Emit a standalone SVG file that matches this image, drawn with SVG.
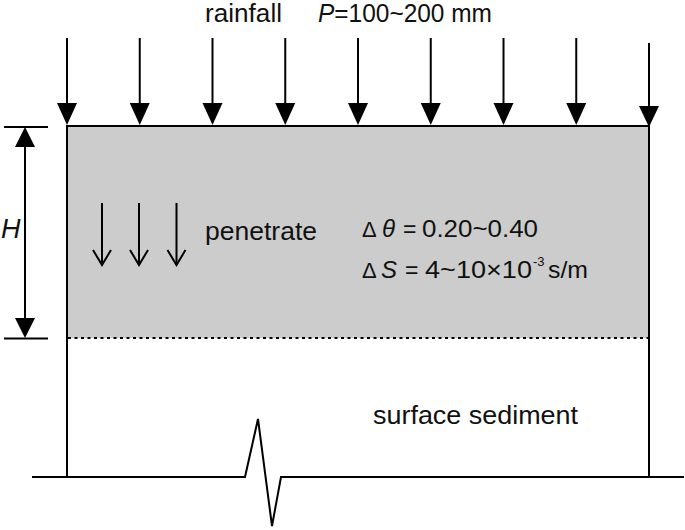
<svg xmlns="http://www.w3.org/2000/svg" width="685" height="530" viewBox="0 0 685 530">
<style>
.ln{stroke:#000;stroke-width:2;fill:none}
.hd{fill:#000;stroke:none}
.t{font-family:"Liberation Sans",Arial,sans-serif;fill:#111}
.i{font-style:italic}
</style>
<rect x="0" y="0" width="685" height="530" fill="#fff"/>
<g id="soil-layer">
<rect x="67" y="126" width="582" height="212" fill="#cccccc"/>
<line class="ln" x1="66" y1="126" x2="650" y2="126"/>
<line class="ln" x1="67" y1="126" x2="67" y2="477"/>
<line class="ln" x1="649" y1="126" x2="649" y2="477"/>
<line x1="68" y1="338" x2="648" y2="338" stroke="#000" stroke-width="2" stroke-dasharray="3,3.5"/>
</g>
<g id="ground">
<polyline class="ln" points="32,477 245,477 258,419 272,526 281,477 684,477"/>
</g>
<g id="title">
<text class="t" x="205" y="22" font-size="25" textLength="77" lengthAdjust="spacingAndGlyphs">rainfall</text>
<text class="t" x="318" y="22" font-size="25" textLength="174" lengthAdjust="spacingAndGlyphs"><tspan class="i">P</tspan>=100~200 mm</text>
</g>
<g id="connectors">
<g id="rain-arrows">
<line class="ln" x1="67" y1="38" x2="67" y2="105"/><polygon class="hd" points="57,103 77,103 67,125"/>
<line class="ln" x1="139.75" y1="38" x2="139.75" y2="105"/><polygon class="hd" points="129.75,103 149.75,103 139.75,125"/>
<line class="ln" x1="212.5" y1="38" x2="212.5" y2="105"/><polygon class="hd" points="202.5,103 222.5,103 212.5,125"/>
<line class="ln" x1="285.25" y1="38" x2="285.25" y2="105"/><polygon class="hd" points="275.25,103 295.25,103 285.25,125"/>
<line class="ln" x1="358" y1="38" x2="358" y2="105"/><polygon class="hd" points="348,103 368,103 358,125"/>
<line class="ln" x1="430.75" y1="38" x2="430.75" y2="105"/><polygon class="hd" points="420.75,103 440.75,103 430.75,125"/>
<line class="ln" x1="503.5" y1="38" x2="503.5" y2="105"/><polygon class="hd" points="493.5,103 513.5,103 503.5,125"/>
<line class="ln" x1="576.25" y1="38" x2="576.25" y2="105"/><polygon class="hd" points="566.25,103 586.25,103 576.25,125"/>
<line class="ln" x1="649" y1="43" x2="649" y2="108"/><polygon class="hd" points="639,106 659,106 649,127"/>
</g>
<g id="penetrate-arrows">
<line class="ln" x1="102" y1="203" x2="102" y2="265"/><polyline class="ln" points="93,250 102,265 111,250"/>
<line class="ln" x1="139" y1="203" x2="139" y2="265"/><polyline class="ln" points="130,250 139,265 148,250"/>
<line class="ln" x1="176.5" y1="203" x2="176.5" y2="265"/><polyline class="ln" points="167.5,250 176.5,265 185.5,250"/>
</g>
<g id="dimension-H">
<line class="ln" x1="4" y1="127" x2="48" y2="127"/>
<line class="ln" x1="4" y1="338.5" x2="48" y2="338.5"/>
<line class="ln" x1="25" y1="145" x2="25" y2="320"/>
<polygon class="hd" points="15,147 35,147 25,127"/>
<polygon class="hd" points="15,318 35,318 25,338"/>
</g>
</g>
<g id="label-H">
<text class="t i" x="1" y="238" font-size="27">H</text>
</g>
<g id="label-penetrate">
<text class="t" x="205" y="240" font-size="26" textLength="112" lengthAdjust="spacingAndGlyphs">penetrate</text>
</g>
<g id="label-params">
<text class="t" x="362" y="237" font-size="22">Δ</text>
<text class="t i" x="382" y="237" font-size="24">θ</text>
<text class="t" x="403" y="237" font-size="23">=</text>
<text class="t" x="422" y="237" font-size="24" textLength="116" lengthAdjust="spacingAndGlyphs">0.20~0.40</text>
<text class="t" x="362" y="278" font-size="22">Δ</text>
<text class="t i" x="381" y="278" font-size="24">S</text>
<text class="t" x="405" y="278" font-size="23">=</text>
<text class="t" x="425" y="278" font-size="24" textLength="107" lengthAdjust="spacingAndGlyphs">4~10×10</text>
<text class="t" x="533" y="266" font-size="13">-3</text>
<text class="t" x="548" y="278" font-size="24" textLength="40" lengthAdjust="spacingAndGlyphs">s/m</text>
</g>
<g id="label-sediment">
<text class="t" x="373" y="424" font-size="25" textLength="205" lengthAdjust="spacingAndGlyphs">surface sediment</text>
</g>
</svg>
